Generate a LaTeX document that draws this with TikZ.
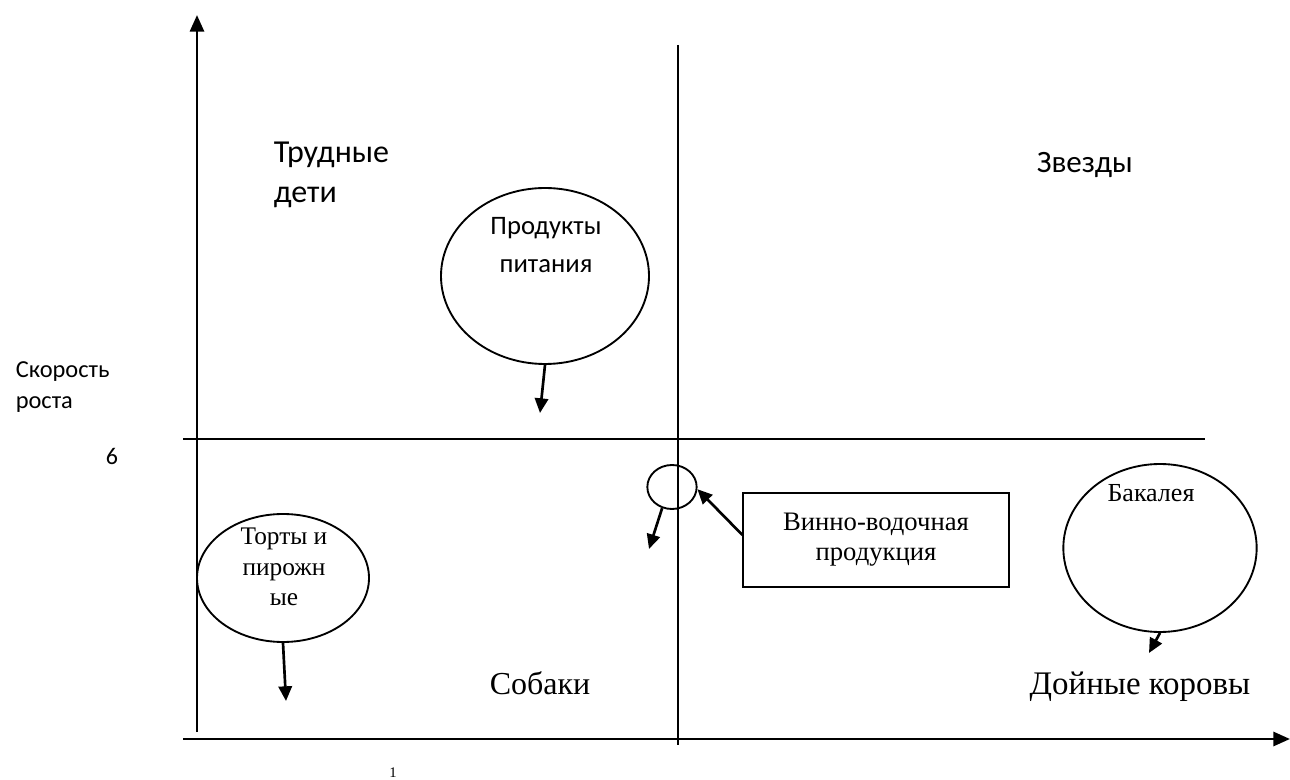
\documentclass[tikz,border=0pt]{standalone}
\usepackage{fontspec}
\setmainfont{Liberation Serif}
\newfontfamily\calfont{Carlito}
\usepackage{tikz}
\usetikzlibrary{arrows.meta, positioning, calc, shapes.geometric}

\begin{document}
\begin{tikzpicture}[x=0.75pt,y=-0.75pt,>={Triangle[length=11pt,width=10pt]},
			line width=2pt,
			prod node/.style={ellipse,draw,line width=1.4pt,inner sep=0pt,align=center},
			label text/.style={font=\calfont\fontsize{24}{30}\selectfont,align=left,anchor=west},
			cow text/.style={font=\fontsize{24}{28}\selectfont,anchor=base}]
			
			\useasboundingbox (0,0) rectangle (1290,780);
			
			% axes
			\coordinate (yb) at (197,732);
			\coordinate (yt) at (197,15);
			\coordinate (xl) at (183,739);
			\coordinate (xr) at (1290,739);
			\draw[-{Triangle[length=12.5pt,width=10.5pt]},line width=2.2pt] (yb) -- (yt);
			\draw[-{Triangle[length=12.5pt,width=10.5pt]},line width=2.2pt] (xl) -- (xr);
			
			% quadrants
			\coordinate (hl) at (183,439);
			\coordinate (hr) at (1205,439);
			\coordinate (vt) at (678,45);
			\coordinate (vb) at (678,745);
			\draw[line width=1.4pt] (hl) -- (hr);
			\draw[line width=1.4pt] (vt) -- (vb);
			
			\node[anchor=west,align=left,font=\calfont\fontsize{18.3}{23}\selectfont] (rate) at (10,387) {Скорость\\роста};
			\node[anchor=base,font=\calfont\fontsize{18}{22}\selectfont] (six) at (112,465) {6};
			\node[anchor=base,font=\fontsize{11}{13}\selectfont] (one) at (393,777) {1};
			
			\node[label text] (kids) at (268,175) {Трудные\\дети};
			\node[label text,anchor=base west,font=\calfont\fontsize{23.3}{28}\selectfont] (stars) at (1031,173) {Звезды};
			\node[cow text] (dogs) at (540,695) {Собаки};
			\node[cow text,font=\fontsize{24.7}{28}\selectfont] (cows) at (1140,694) {Дойные коровы};
			
			% products
			\node[prod node,minimum width=156pt,minimum height=132pt] (food) at (545,276) {};
			\node[font=\calfont\fontsize{20}{28}\selectfont,align=center] (foodtxt) at (546,245) {Продукты\\питания};
			\node[prod node,minimum width=37pt,minimum height=33pt] (wine) at (672,487) {};
			\node[draw,line width=1.4pt,minimum width=199pt,minimum height=71pt,align=center,
				font=\fontsize{20}{22.5}\selectfont] (winebox) at (876,540) {Винно-водочная\\продукция};
			\node[prod node,minimum width=129pt,minimum height=96pt] (cakes) at (283,578) {};
			\node[font=\fontsize{19}{23}\selectfont,align=center] (cakestxt) at (284,567) {Торты и\\пирожн\\ые};
			\node[prod node,minimum width=145pt,minimum height=126pt] (groc) at (1160,548) {};
			\node[anchor=base,font=\fontsize{19.5}{22}\selectfont] (groctxt) at (1151,502) {Бакалея};
			
			\coordinate (foodend) at (540,413);
			\coordinate (wineend) at (649,549);
			\coordinate (boxstart) at ($(winebox.west)+(0,-5)$);
			\coordinate (cakesend) at (286,701);
			\coordinate (grocend) at (1149,653);
			
			\path[->]
			(food.south) edge (foodend)
			(wine.-115) edge (wineend)
			(boxstart) edge (wine.-5)
			(cakes.south) edge (cakesend)
			(groc.south) edge (grocend);
		\end{tikzpicture}
\end{document}
